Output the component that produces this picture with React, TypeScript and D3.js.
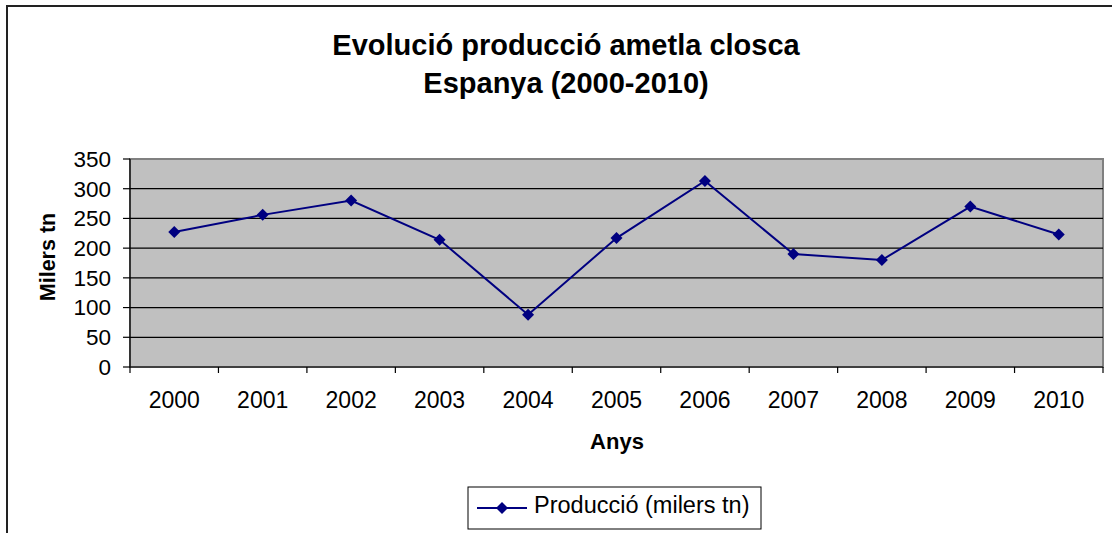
import React from "react";
import * as d3 from "d3";

// chart data
const years = ["2000", "2001", "2002", "2003", "2004", "2005", "2006", "2007", "2008", "2009", "2010"];
const production = [227, 256, 280, 214, 88, 217, 313, 190, 180, 270, 223];
const yTicks = [0, 50, 100, 150, 200, 250, 300, 350];
const titleLines = ["Evolució producció ametla closca", "Espanya (2000-2010)"];
const seriesName = "Producció (milers tn)";

const W = 1112;
const H = 533;
const plot = { left: 130, right: 1103, top: 159, bottom: 367 };
const font = "Arial, 'Liberation Sans', sans-serif";
const navy = "#000080";

export default function App() {
    const x = d3.scaleBand().domain(years).range([plot.left, plot.right]);
    const y = d3.scaleLinear().domain([0, 350]).range([plot.bottom, plot.top]);

    const line = d3
        .line<number>()
        .x((d, i) => x(years[i])! + x.bandwidth() / 2)
        .y((d) => y(d));

    const diamond = (cx: number, cy: number, r = 6) =>
        `M${cx},${cy - r}L${cx + r},${cy}L${cx},${cy + r}L${cx - r},${cy}Z`;

    const legendY = 508;

    return (
        <div style={{ position: "absolute", left: 0, top: 0 }}>
            <svg width={W} height={H} style={{ display: "block", fontFamily: font }}>
                <rect x={0} y={0} width={W} height={H} fill="#fff" />
                {/* outer chart border */}
                <rect x={7} y={6} width={W + 20} height={H + 20} fill="none" stroke="#222" strokeWidth={2} />

                {/* title */}
                {titleLines.map((t, i) => (
                    <text key={t} x={566} y={55 + i * 38} textAnchor="middle" fontSize={29} fontWeight="bold">
                        {t}
                    </text>
                ))}

                {/* plot area */}
                <rect x={plot.left} y={plot.top} width={plot.right - plot.left} height={plot.bottom - plot.top}
                    fill="#c0c0c0" stroke="#808080" strokeWidth={2} />

                {yTicks.filter((v) => v > 0 && v < 350).map((v) => (
                    <line key={v} x1={plot.left} x2={plot.right} y1={y(v)} y2={y(v)} stroke="#000" strokeWidth={1.2} />
                ))}

                {/* axes */}
                <line x1={plot.left} x2={plot.left} y1={plot.top} y2={plot.bottom + 6} stroke="#000" strokeWidth={1.2} />
                <line x1={plot.left} x2={plot.right} y1={plot.bottom} y2={plot.bottom} stroke="#000" strokeWidth={1.2} />
                {yTicks.map((v) => (
                    <g key={v}>
                        <line x1={plot.left - 7} x2={plot.left} y1={y(v)} y2={y(v)} stroke="#000" strokeWidth={1.2} />
                        <text x={111} y={y(v) + 7.8} textAnchor="end" fontSize={22.5}>{v}</text>
                    </g>
                ))}
                {years.map((yr) => (
                    <g key={yr}>
                        <line x1={x(yr)! + x.bandwidth()} x2={x(yr)! + x.bandwidth()} y1={plot.bottom} y2={plot.bottom + 6}
                            stroke="#000" strokeWidth={1.2} />
                        <text x={x(yr)! + x.bandwidth() / 2} y={408} textAnchor="middle" fontSize={23}>{yr}</text>
                    </g>
                ))}

                {/* axis titles */}
                <text x={617} y={449} textAnchor="middle" fontSize={22} fontWeight="bold">
                    Anys
                </text>
                <text transform={`translate(55,257) rotate(-90)`} textAnchor="middle"
                    fontSize={21.5} fontWeight="bold">
                    Milers tn
                </text>

                {/* series */}
                <path d={line(production)!} fill="none" stroke={navy} strokeWidth={2} />
                {production.map((v, i) => (
                    <path key={i} d={diamond(x(years[i])! + x.bandwidth() / 2, y(v))} fill={navy} />
                ))}

                {/* legend */}
                <rect x={468} y={487} width={293} height={42} fill="#fff" stroke="#000" strokeWidth={1} />
                <line x1={477} x2={527} y1={legendY} y2={legendY} stroke={navy} strokeWidth={2} />
                <path d={diamond(502, legendY)} fill={navy} />
                <text x={534} y={513} fontSize={23.5}>{seriesName}</text>
            </svg>
        </div>
    );
}
